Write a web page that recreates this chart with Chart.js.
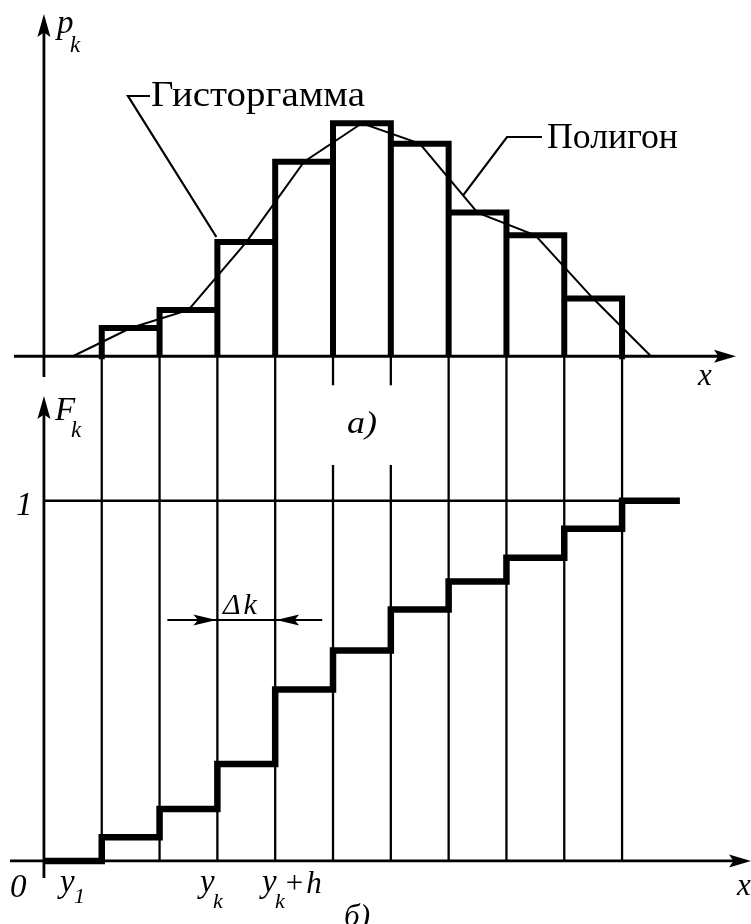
<!DOCTYPE html>
<html>
<head>
<meta charset="utf-8">
<script src="https://cdn.jsdelivr.net/npm/chart.js@4/dist/chart.umd.min.js"></script>
<style>
  html, body { margin: 0; padding: 0; background: #fff; }
  #wrap { width: 751px; height: 924px; }
</style>
</head>
<body>
<div id="wrap"><canvas id="chart" width="751" height="924"></canvas></div>
<script>
// bin edges in units of h (the ordinate axis sits at 0)
const edges = [1, 2, 3, 4, 5, 6, 7, 8, 9, 10];
// relative frequencies p_k of the nine bins
const pk = [0.025, 0.041, 0.101, 0.172, 0.206, 0.188, 0.127, 0.107, 0.051];
// step levels F_k of the empirical distribution, one per edge
const Fk = [0.066, 0.144, 0.269, 0.476, 0.584, 0.698, 0.776, 0.842, 0.922, 1];
// edges whose thin guide lines are broken around the "а)" caption
const brokenEdges = [5, 6];

// histogram outline: every bar drawn as up / across / down
const histPts = [];
pk.forEach((p, i) => {
  histPts.push({ x: edges[i], y: 0 }, { x: edges[i], y: p }, { x: edges[i + 1], y: p }, { x: edges[i + 1], y: 0 });
});

// polygon through bar mid-points, closed to the axis half a bin outside
const polyPts = [{ x: edges[0] - 0.5, y: 0 }];
pk.forEach((p, i) => polyPts.push({ x: (edges[i] + edges[i + 1]) / 2, y: p }));
polyPts.push({ x: edges[edges.length - 1] + 0.5, y: 0 });

// staircase of F_k
const cdfPts = [{ x: 0, y: 0 }];
Fk.forEach((f, i) => {
  const prev = i === 0 ? 0 : Fk[i - 1];
  cdfPts.push({ x: edges[i], y: prev }, { x: edges[i], y: f });
});
cdfPts.push({ x: edges[edges.length - 1] + 1, y: 1 });

const SERIF = '"Liberation Serif", "Times New Roman", serif';

function arrowHead(ctx, x, y, dir, len, half) {
  // dir: 'up' | 'right' | 'left'
  ctx.beginPath();
  if (dir === 'up') {
    ctx.moveTo(x, y); ctx.lineTo(x - half, y + len); ctx.lineTo(x, y + len * 0.8); ctx.lineTo(x + half, y + len);
  } else if (dir === 'right') {
    ctx.moveTo(x, y); ctx.lineTo(x - len, y - half); ctx.lineTo(x - len * 0.8, y); ctx.lineTo(x - len, y + half);
  } else {
    ctx.moveTo(x, y); ctx.lineTo(x + len, y - half); ctx.lineTo(x + len * 0.8, y); ctx.lineTo(x + len, y + half);
  }
  ctx.closePath();
  ctx.fill();
}

function text(ctx, s, x, y, size, italic, width) {
  ctx.font = (italic ? 'italic ' : '') + size + 'px ' + SERIF;
  const w = ctx.measureText(s).width;
  if (width) {
    // stretch the caption to the wanted width
    ctx.save();
    ctx.translate(x, y);
    ctx.scale(width / w, 1);
    ctx.fillText(s, 0, 0);
    ctx.restore();
    return x + width;
  }
  ctx.fillText(s, x, y);
  return x + w;
}

const decor = {
  id: 'decor',
  beforeDraw(chart) {
    const { ctx, width, height } = chart;
    ctx.save();
    ctx.fillStyle = '#fff';
    ctx.fillRect(0, 0, width, height);
    ctx.restore();
  },
  beforeDatasetsDraw(chart) {
    const { ctx, scales: { x, yP, yF } } = chart;
    const X = v => x.getPixelForValue(v);
    const x0 = X(0), pTop = yP.getPixelForValue(0), fBase = yF.getPixelForValue(0);
    ctx.save();
    ctx.strokeStyle = '#000';
    ctx.fillStyle = '#000';
    ctx.lineCap = 'butt';

    // thin guides from the upper axis down to the lower one
    ctx.lineWidth = 2.3;
    edges.forEach(e => {
      ctx.beginPath();
      if (brokenEdges.includes(e)) {
        ctx.moveTo(X(e), pTop); ctx.lineTo(X(e), pTop + 29);
        ctx.moveTo(X(e), 465); ctx.lineTo(X(e), fBase);
      } else {
        ctx.moveTo(X(e), pTop); ctx.lineTo(X(e), fBase);
      }
      ctx.stroke();
    });

    // axes
    ctx.lineWidth = 2.8;
    ctx.beginPath();
    ctx.moveTo(14, pTop); ctx.lineTo(725, pTop);
    ctx.moveTo(x0, 377); ctx.lineTo(x0, 25);
    ctx.moveTo(10, fBase); ctx.lineTo(741, fBase);
    ctx.moveTo(x0, 878); ctx.lineTo(x0, 407);
    ctx.stroke();
    arrowHead(ctx, 736, pTop, 'right', 22, 6.5);
    arrowHead(ctx, x0, 14, 'up', 23, 6.5);
    arrowHead(ctx, 751, fBase, 'right', 22, 6.5);
    arrowHead(ctx, x0, 396, 'up', 23, 6.5);

    // dimension Δk between y_k and y_k + h
    const dy = 620, a = X(edges[2]), b = X(edges[3]);
    ctx.lineWidth = 2.2;
    ctx.beginPath();
    ctx.moveTo(a - 50, dy); ctx.lineTo(b + 47, dy);
    ctx.stroke();
    arrowHead(ctx, a - 1, dy, 'right', 23, 5.5);
    arrowHead(ctx, b + 1, dy, 'left', 23, 5.5);

    // leader lines for the captions
    const hx = X(edges[2]) - 1, hy = yP.getPixelForValue(pk[2]) - 5;
    ctx.lineWidth = 2.2;
    ctx.beginPath();
    ctx.moveTo(150, 96); ctx.lineTo(128, 96); ctx.lineTo(hx, hy);
    const t = 0.75;
    const px = X(polyPts[6].x + t * (polyPts[7].x - polyPts[6].x));
    const py = yP.getPixelForValue(polyPts[6].y + t * (polyPts[7].y - polyPts[6].y));
    ctx.moveTo(542, 137); ctx.lineTo(507, 137); ctx.lineTo(px, py);
    ctx.stroke();
    ctx.restore();
  },
  afterDatasetsDraw(chart) {
    const { ctx } = chart;
    ctx.save();
    ctx.fillStyle = '#000';
    ctx.textBaseline = 'alphabetic';

    text(ctx, 'p', 57, 33, 33, true);
    text(ctx, 'k', 70, 52, 23, true);
    text(ctx, 'F', 55, 420, 33, true);
    text(ctx, 'k', 71, 437, 23, true);
    text(ctx, '1', 16, 515, 33, true);
    text(ctx, '0', 10, 897, 33, true);
    text(ctx, 'x', 698, 385, 31, true);
    text(ctx, 'x', 737, 895, 31, true);
    text(ctx, 'а)', 347, 433, 31, true, 30);
    text(ctx, 'б)', 344, 926, 31, true, 26);

    text(ctx, 'y', 60, 892, 33, true);
    text(ctx, '1', 74, 903, 22, true);
    text(ctx, 'y', 200, 892, 33, true);
    text(ctx, 'k', 213, 908, 22, true);
    text(ctx, 'y', 262, 892, 33, true);
    let cx = text(ctx, 'k', 275, 908, 22, true);
    cx = text(ctx, '+', cx + 1, 893, 31, false);
    text(ctx, 'h', cx + 3, 893, 31, true);

    const dx = text(ctx, 'Δ', 223, 614, 30, true);
    text(ctx, 'k', dx + 3, 614, 30, true);

    text(ctx, 'Гисторгамма', 151, 106, 35, false, 214);
    text(ctx, 'Полигон', 547, 148, 35, false, 131);
    ctx.restore();
  }
};

new Chart(document.getElementById('chart'), {
  type: 'line',
  data: {
    datasets: [
      { label: 'Полигон', data: polyPts, yAxisID: 'yP', borderColor: '#000', borderWidth: 2, pointRadius: 0, tension: 0 },
      { label: 'Гисторгамма', data: histPts, yAxisID: 'yP', borderColor: '#000', borderWidth: 6, pointRadius: 0, borderJoinStyle: 'miter', borderCapStyle: 'square' },
      { label: '1', data: [{ x: 0, y: 1 }, { x: edges[edges.length - 1], y: 1 }], yAxisID: 'yF', borderColor: '#000', borderWidth: 2.3, pointRadius: 0 },
      { label: 'F', data: cdfPts, yAxisID: 'yF', borderColor: '#000', borderWidth: 6.5, pointRadius: 0, borderJoinStyle: 'miter', borderCapStyle: 'butt' }
    ]
  },
  options: {
    responsive: false,
    animation: false,
    devicePixelRatio: 1,
    layout: { padding: 0 },
    plugins: { legend: { display: false }, tooltip: { enabled: false } },
    scales: {
      x: { type: 'linear', min: -0.76, max: 12.23, display: false },
      yP: { type: 'linear', position: 'left', min: -0.502, max: 0.315, display: false },
      yF: { type: 'linear', position: 'left', min: -0.175, max: 2.39, display: false }
    }
  },
  plugins: [decor]
});
</script>
</body>
</html>
